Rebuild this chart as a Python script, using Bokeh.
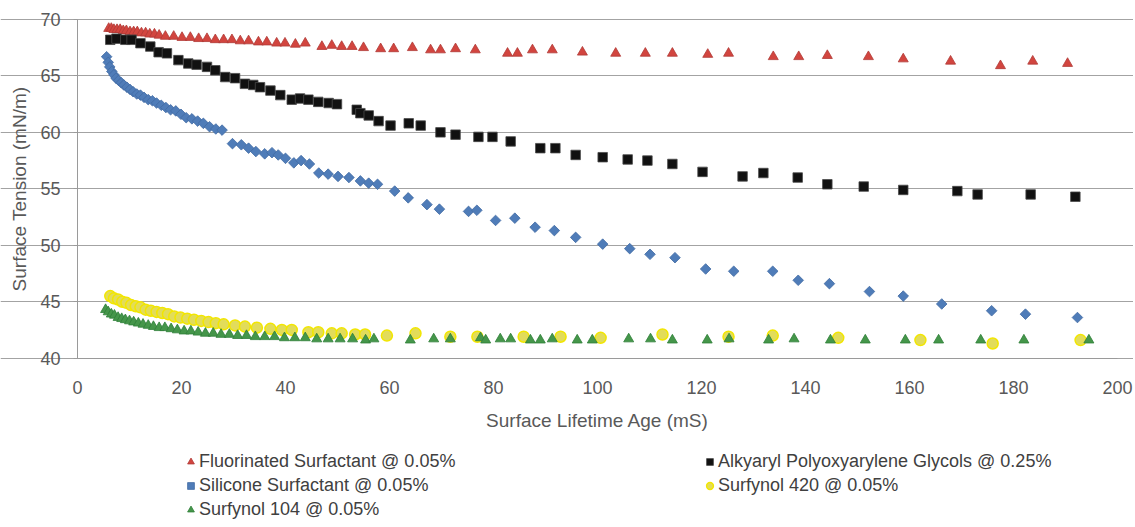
import math
from bokeh.plotting import figure
from bokeh.models import FixedTicker, Legend, LegendItem, Range1d
from bokeh.embed import file_html
from bokeh.resources import INLINE

# ---- data ----
fluor_x = [6.0, 6.5, 7.0, 7.6, 8.2, 8.8, 9.4, 10.1, 10.8, 11.5, 12.3, 13.1, 13.9, 14.8, 15.7,
           16.9, 18.5, 20.1, 21.7, 23.3, 24.9, 26.5, 28.1, 29.7, 31.3, 32.9, 34.8, 36.4, 38.3,
           39.9, 41.9, 43.8, 47.0, 48.9, 50.8, 52.8, 55.0,
           58.3, 60.8, 64.4, 67.9, 69.8, 72.7, 76.5,
           82.7, 84.6, 87.5, 91.3, 97.1, 103.5, 109.2, 114.4, 121.2, 125.2,
           133.8, 138.7, 144.2, 152.1, 158.8, 167.9, 177.5, 183.7, 190.4]
fluor_y = [69.2, 69.2, 69.1, 69.1, 69.1, 69.0, 69.0, 68.9, 68.9, 68.9, 68.8, 68.8, 68.7, 68.7, 68.6,
           68.5, 68.5, 68.4, 68.4, 68.3, 68.3, 68.2, 68.2, 68.2, 68.1, 68.1, 68.0, 68.0, 67.9,
           67.9, 67.8, 67.9, 67.6, 67.7, 67.6, 67.6, 67.5,
           67.4, 67.4, 67.5, 67.3, 67.3, 67.4, 67.3,
           67.0, 67.0, 67.3, 67.3, 67.1, 67.0, 67.0, 67.0, 66.9, 67.0,
           66.7, 66.7, 66.8, 66.7, 66.5, 66.3, 65.9, 66.3, 66.1]

alky_x = [6.3, 7.5, 9.2, 10.4, 12.1, 14.0, 15.6, 17.2, 19.4, 21.3, 22.9, 24.9, 26.5, 28.4, 30.3,
          32.2, 33.8, 35.1, 37.1, 39.0, 41.2, 42.8, 44.4, 46.3, 48.3, 49.9, 53.7, 54.4, 56.0,
          57.9, 60.2, 63.7, 66.0, 69.8, 72.7, 77.1, 79.8, 83.3, 89.0,
          91.9, 95.8, 101.0, 105.8, 109.6, 114.4, 120.2, 127.9,
          131.9, 138.5, 144.2, 151.2, 158.8, 169.2, 173.1, 183.3, 191.9]
alky_y = [68.2, 68.3, 68.2, 68.2, 67.9, 67.6, 67.1, 67.0, 66.4, 66.1, 66.0, 65.8, 65.5, 64.9, 64.8,
          64.3, 64.2, 64.0, 63.7, 63.3, 62.9, 63.0, 62.9, 62.7, 62.6, 62.5, 62.0, 61.7, 61.5,
          61.0, 60.6, 60.8, 60.6, 60.0, 59.8, 59.6, 59.6, 59.2, 58.6,
          58.6, 58.0, 57.8, 57.6, 57.5, 57.2, 56.5, 56.1,
          56.4, 56.0, 55.4, 55.2, 54.9, 54.8, 54.5, 54.5, 54.3]

sil_x = [5.6, 5.9, 6.2, 6.6, 7.0, 7.4, 7.9, 8.4, 8.9, 9.5, 10.1, 10.7, 11.4, 12.1, 12.8,
         13.6, 14.4, 15.2, 16.1, 17.0, 17.9, 18.9, 19.9, 20.9, 22.0, 23.1, 24.2, 25.4, 26.6, 27.8,
         29.8, 31.5, 32.9, 34.3, 36.0, 37.4, 38.6, 40.0, 41.6, 43.0, 44.6, 46.4, 48.2, 50.1, 52.2,
         54.4, 56.0, 57.7, 61.0, 63.6, 67.2, 69.6, 75.2, 76.8, 80.4, 84.1, 88.0, 91.7, 95.8, 101.0,
         106.2, 110.1, 114.9, 120.8, 126.2, 133.7, 138.6, 144.6, 152.3, 158.8, 166.2, 175.8, 182.3, 192.3]
sil_y = [66.7, 66.2, 65.8, 65.4, 65.1, 64.8, 64.6, 64.4, 64.2, 64.0, 63.8, 63.6, 63.4, 63.3, 63.1,
         62.9, 62.8, 62.6, 62.4, 62.2, 62.0, 61.9, 61.6, 61.3, 61.2, 61.0, 60.8, 60.5, 60.3, 60.2,
         59.0, 58.9, 58.6, 58.3, 58.1, 58.2, 58.0, 57.7, 57.3, 57.5, 57.2, 56.4, 56.3, 56.1, 56.0,
         55.7, 55.5, 55.4, 54.8, 54.2, 53.6, 53.2, 53.0, 53.1, 52.2, 52.4, 51.6, 51.3, 50.7, 50.1,
         49.7, 49.2, 48.9, 47.9, 47.7, 47.7, 46.9, 46.6, 45.9, 45.5, 44.8, 44.2, 43.9, 43.6]

s420_x = [6.3, 7.0, 7.8, 8.6, 9.4, 10.3, 11.2, 12.1, 13.1, 14.1, 15.2, 16.3, 17.4, 18.6, 19.8,
          21.1, 22.4, 23.8, 25.2, 26.6, 28.1, 30.3, 32.2, 34.5, 37.1, 39.3, 41.2, 44.4, 46.3, 48.9,
          50.8, 53.4, 55.3, 59.5, 65.0, 71.7, 76.9, 85.8, 92.9, 100.6,
          112.5, 125.2, 133.7, 146.3, 162.1, 176.0, 192.9]
s420_y = [45.5, 45.3, 45.2, 45.0, 44.9, 44.7, 44.6, 44.5, 44.3, 44.2, 44.1, 44.0, 43.9, 43.7, 43.6,
          43.5, 43.4, 43.3, 43.2, 43.1, 43.0, 42.9, 42.8, 42.7, 42.6, 42.5, 42.5, 42.3, 42.3, 42.2,
          42.2, 42.1, 42.1, 42.0, 42.2, 41.9, 41.9, 41.9, 41.9, 41.8,
          42.1, 41.9, 42.0, 41.8, 41.6, 41.3, 41.6]

s104_x = [5.4, 5.9, 6.5, 7.1, 7.8, 8.5, 9.2, 10.0, 10.8, 11.7, 12.6, 13.6, 14.6, 15.7, 16.8,
          18.0, 19.2, 20.5, 21.8, 23.2, 24.6, 26.1, 27.6, 29.2, 30.8, 32.5, 34.2, 36.0, 37.9, 39.8,
          41.8, 43.8, 46.0, 48.2, 50.5, 52.9, 55.4,
          57.0, 64.0, 68.5, 71.7, 77.5, 78.5, 81.3, 83.3, 87.1, 89.0, 91.3, 96.1, 99.0, 106.0,
          110.2, 114.4, 121.1, 125.3,
          132.9, 137.8, 144.8, 151.5, 159.2, 165.6, 173.7, 182.0, 194.5]
s104_y = [44.3, 44.1, 43.9, 43.8, 43.6, 43.5, 43.4, 43.3, 43.2, 43.1, 43.0, 42.9, 42.8, 42.7, 42.7,
          42.6, 42.5, 42.4, 42.4, 42.3, 42.2, 42.2, 42.1, 42.1, 42.0, 42.0, 41.9, 41.9, 41.9, 41.8,
          41.8, 41.8, 41.7, 41.7, 41.7, 41.7, 41.6,
          41.7, 41.6, 41.7, 41.7, 41.8, 41.6, 41.7, 41.7, 41.6, 41.6, 41.7, 41.6, 41.6, 41.7,
          41.7, 41.6, 41.6, 41.7,
          41.6, 41.7, 41.6, 41.6, 41.6, 41.6, 41.6, 41.6, 41.6]

series_names = ["Fluorinated Surfactant @ 0.05%",
                "Alkyaryl Polyoxyarylene Glycols @ 0.25%",
                "Silicone Surfactant @ 0.05%",
                "Surfynol 420 @ 0.05%",
                "Surfynol 104 @ 0.05%"]
x_ticks = [0, 20, 40, 60, 80, 100, 120, 140, 160, 180, 200]
y_ticks = [40, 45, 50, 55, 60, 65, 70]
X_MIN, X_MAX = 0, 200
Y_MIN, Y_MAX = 40, 70

FONT = "Liberation Sans"
TXT = "#595959"

# The frame covers the whole figure; axes are pinned to x=0 / y=40 and the
# grid and axis lines are bounded to the 0..200 x 40..70 data area, so that
# tick labels, axis titles and the legend below the chart are drawn unclipped.
p = figure(width=1133, height=525, output_backend="svg", toolbar_location=None,
           x_range=Range1d(-14.81, 203.08), y_range=Range1d(25.18, 71.68),
           min_border_left=0, min_border_right=0, min_border_top=0, min_border_bottom=0)
p.outline_line_color = None
p.background_fill_color = "white"
p.border_fill_color = "white"

r_fl = p.scatter(fluor_x, fluor_y, marker="triangle", size=10,
                 fill_color="#D2453F", line_color="#B03A36", line_width=0.8)
r_al = p.scatter(alky_x, alky_y, marker="square", size=9.5,
                 fill_color="#111111", line_color="#4A4A4A", line_width=0.8)
r_si = p.scatter(sil_x, sil_y, marker="square", angle=math.pi / 4, size=7.5,
                 fill_color="#4F7CB8", line_color="#416BA3", line_width=0.8)
r_420 = p.scatter(s420_x, s420_y, marker="circle", size=11,
                  fill_color="#E2DC5A", line_color="#F2E600", line_width=1.5)
r_104 = p.scatter(s104_x, s104_y, marker="triangle", size=10,
                  fill_color="#45964A", line_color="#2F7F38", line_width=0.8)

# axes
p.xaxis.ticker = FixedTicker(ticks=x_ticks)
p.yaxis.ticker = FixedTicker(ticks=y_ticks)
for ax in (p.xaxis[0], p.yaxis[0]):
    ax.major_label_text_font = FONT
    ax.major_label_text_font_size = "18px"
    ax.major_label_text_color = TXT
    ax.axis_label_text_font = FONT
    ax.axis_label_text_font_size = "19px"
    ax.axis_label_text_font_style = "normal"
    ax.axis_label_text_color = TXT
    ax.axis_line_color = "#9A9A9A"
    ax.major_tick_line_color = "#9A9A9A"
    ax.minor_tick_line_color = None
    ax.major_tick_in = 0

p.xaxis.axis_label = "Surface Lifetime Age (mS)"
p.yaxis.axis_label = "Surface Tension (mN/m)"
p.xaxis.fixed_location = Y_MIN
p.xaxis.bounds = (X_MIN, X_MAX)
p.xaxis.major_tick_out = 0
p.xaxis.major_label_standoff = 23
p.xaxis.axis_label_standoff = 12
p.yaxis.fixed_location = X_MIN
p.yaxis.bounds = (Y_MIN, Y_MAX)
p.yaxis.major_tick_out = 4
p.yaxis.major_label_standoff = 13
p.yaxis.axis_label_standoff = 7

p.xgrid.grid_line_color = None
p.ygrid.grid_line_color = "#A3A3A3"
p.ygrid.grid_line_width = 1
p.ygrid.bounds = (X_MIN, X_MAX)


def make_legend(items, loc):
    return Legend(items=items, location=loc, orientation="vertical",
                  label_text_font=FONT, label_text_font_size="18px", label_text_color="#404040",
                  glyph_width=17, glyph_height=19, label_height=19, label_standoff=0,
                  spacing=3, padding=0, margin=0,
                  background_fill_alpha=0, border_line_color=None)


left_items = [LegendItem(label=series_names[0], renderers=[r_fl]),
              LegendItem(label=series_names[2], renderers=[r_si]),
              LegendItem(label=series_names[4], renderers=[r_104])]
right_items = [LegendItem(label=series_names[1], renderers=[r_al]),
               LegendItem(label=series_names[3], renderers=[r_420])]

p.add_layout(make_legend(left_items, (182, 5)))
p.add_layout(make_legend(right_items, (701, 29)))

open("out.html", "w").write(file_html(p, INLINE))
